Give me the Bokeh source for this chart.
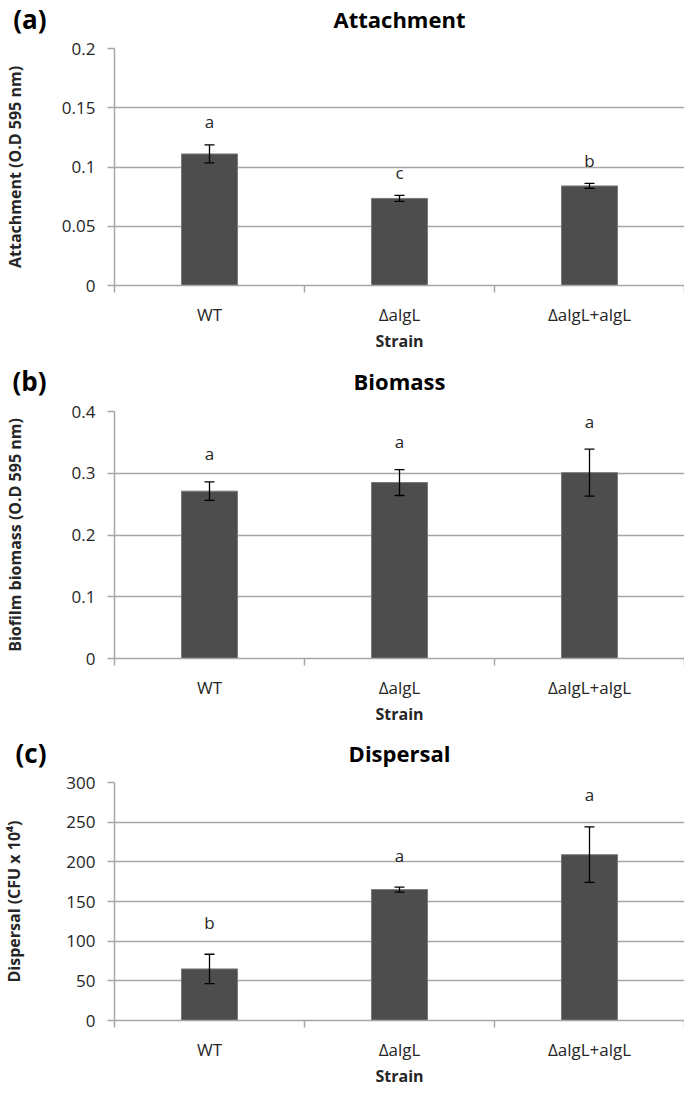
from bokeh.plotting import figure
from bokeh.layouts import column
from bokeh.models import (ColumnDataSource, Range1d, FixedTicker, Whisker, TeeHead,
                          NumeralTickFormatter, BasicTickFormatter)
from bokeh.core.properties import value
from bokeh.embed import file_html
from bokeh.resources import INLINE

# ---------------- data ----------------
strains = ["WT", "ΔalgL", "ΔalgL+algL"]

attach_mean = [0.111, 0.0735, 0.084]
attach_err = [0.0076, 0.0025, 0.0021]
attach_letters = ["a", "c", "b"]
attach_ticks = [0, 0.05, 0.1, 0.15, 0.2]

biomass_mean = [0.271, 0.285, 0.301]
biomass_err = [0.015, 0.021, 0.038]
biomass_letters = ["a", "a", "a"]
biomass_ticks = [0, 0.1, 0.2, 0.3, 0.4]

dispersal_mean = [65, 165, 209]
dispersal_err = [18.5, 3.2, 35]
dispersal_letters = ["b", "a", "a"]
dispersal_ticks = [0, 50, 100, 150, 200, 250, 300]

FONT = "Open Sans"
GRID = "#a6a6a6"
TXT = "#262626"
W = 684
LEFT = 105
TOP = 12
BOTTOM = 76


def header(tag, title, height):
    """Band above a panel: the panel tag (as a horizontal axis label) and the title."""
    h = figure(width=W, height=height, output_backend="svg", toolbar_location=None,
               x_range=Range1d(0, 1), y_range=Range1d(0, 1),
               x_axis_location=None, y_axis_location="left",
               min_border_left=LEFT, min_border_right=0,
               min_border_top=0, min_border_bottom=0)
    h.outline_line_color = None
    h.xgrid.visible = False
    h.ygrid.visible = False
    ya = h.yaxis[0]
    ya.ticker = FixedTicker(ticks=[])
    ya.axis_line_color = None
    ya.major_tick_line_color = None
    ya.minor_tick_line_color = None
    ya.major_tick_out = 0
    ya.major_tick_in = 0
    ya.minor_tick_out = 0
    ya.major_label_standoff = 0
    ya.axis_label = tag
    ya.axis_label_orientation = "horizontal"
    ya.axis_label_text_font = FONT
    ya.axis_label_text_font_size = "26px"
    ya.axis_label_text_font_style = "bold"
    ya.axis_label_text_color = "black"
    ya.axis_label_standoff = 68
    h.text(x=[0.5], y=[0.5], text=[title], text_align="center",
           text_baseline="middle", text_font=value(FONT), text_font_size="22px",
           text_font_style="bold", text_color="black")
    return h


def panel(ylabel, mean, err, letters, yticks, fmt, frame_h, ylab_std, letter_off):
    n = len(strains)
    xs = [i + 0.5 for i in range(n)]
    src = ColumnDataSource(dict(
        x=xs, mean=mean,
        upper=[m + e for m, e in zip(mean, err)],
        lower=[m - e for m, e in zip(mean, err)],
        letter=letters,
    ))
    p = figure(width=W, height=TOP + frame_h + BOTTOM, output_backend="svg",
               toolbar_location=None,
               x_range=Range1d(0, n), y_range=Range1d(yticks[0], yticks[-1]),
               min_border_left=LEFT, min_border_right=0, min_border_top=TOP,
               min_border_bottom=BOTTOM)
    p.outline_line_color = None

    p.vbar(x="x", top="mean", bottom=0, width=0.295, source=src,
           fill_color="#4d4d4d", line_color="#7a7a7a", line_width=1)

    head = dict(size=10, line_color="black", line_width=1.3)
    wk = Whisker(base="x", upper="upper", lower="lower", source=src,
                 line_color="black", line_width=1.3,
                 upper_head=TeeHead(**head), lower_head=TeeHead(**head))
    wk.level = "overlay"
    p.add_layout(wk)

    p.text(x="x", y="upper", text="letter", source=src, y_offset=-letter_off,
           text_align="center", text_baseline="middle", text_font=value(FONT),
           text_font_size="17px", text_color=TXT)

    # x axis: labels under the bars, ticks between the categories
    xa = p.xaxis[0]
    xa.ticker = FixedTicker(ticks=xs, minor_ticks=list(range(n + 1)))
    xa.major_label_overrides = {x: s for x, s in zip(xs, strains)}
    xa.major_tick_out = 0
    xa.major_tick_in = 0
    xa.major_tick_line_color = None
    xa.minor_tick_out = 7
    xa.minor_tick_in = 0
    xa.minor_tick_line_color = GRID
    xa.minor_tick_line_width = 1.5
    xa.axis_line_color = GRID
    xa.axis_line_width = 1.5
    xa.major_label_standoff = 10
    xa.major_label_text_font = FONT
    xa.major_label_text_font_size = "17px"
    xa.major_label_text_color = TXT
    xa.axis_label = "Strain"
    xa.axis_label_text_font = FONT
    xa.axis_label_text_font_size = "16px"
    xa.axis_label_text_font_style = "bold"
    xa.axis_label_text_color = TXT
    xa.axis_label_standoff = 1

    # y axis
    ya = p.yaxis[0]
    ya.ticker = FixedTicker(ticks=yticks)
    ya.formatter = fmt
    ya.major_tick_out = 7
    ya.major_tick_in = 0
    ya.major_tick_line_color = GRID
    ya.major_tick_line_width = 1.5
    ya.minor_tick_line_color = None
    ya.axis_line_color = GRID
    ya.axis_line_width = 1.5
    ya.major_label_standoff = 12
    ya.major_label_text_font = FONT
    ya.major_label_text_font_size = "17px"
    ya.major_label_text_color = TXT
    ya.axis_label = ylabel
    ya.axis_label_text_font = FONT
    ya.axis_label_text_font_size = "16px"
    ya.axis_label_text_font_style = "bold"
    ya.axis_label_text_color = TXT
    ya.axis_label_standoff = ylab_std

    p.xgrid.visible = False
    p.ygrid.grid_line_color = GRID
    p.ygrid.grid_line_width = 1.5
    return p


ha = header("(a)", "Attachment", 36)
pa = panel("Attachment (O.D 595 nm)", attach_mean, attach_err, attach_letters,
           attach_ticks, NumeralTickFormatter(format="0.[00]"),
           frame_h=237, ylab_std=33, letter_off=23)
hb = header("(b)", "Biomass", 38)
pb = panel("Biofilm biomass (O.D 595 nm)", biomass_mean, biomass_err, biomass_letters,
           biomass_ticks, NumeralTickFormatter(format="0.[0]"),
           frame_h=247, ylab_std=43, letter_off=28)
hc = header("(c)", "Dispersal", 36)
pc = panel("Dispersal (CFU x 10⁴)", dispersal_mean, dispersal_err, dispersal_letters,
           dispersal_ticks, BasicTickFormatter(),
           frame_h=238, ylab_std=38, letter_off=32)

layout = column(ha, pa, hb, pb, hc, pc, spacing=0)
open("out.html", "w").write(file_html(layout, INLINE))
